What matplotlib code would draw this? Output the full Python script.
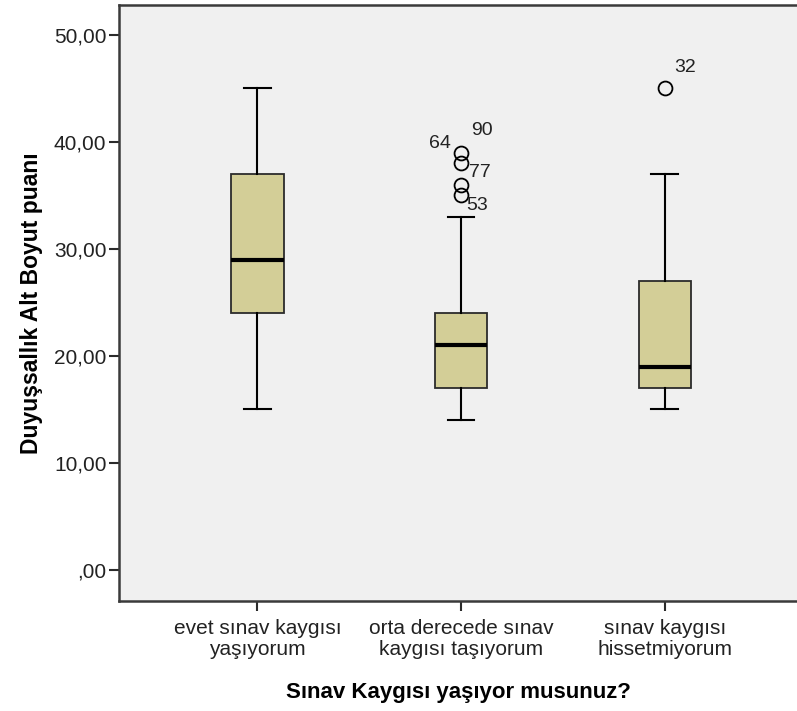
import matplotlib
matplotlib.use("Agg")
import matplotlib.pyplot as plt

plt.rcParams['font.family'] = ['Liberation Sans', 'DejaVu Sans']

# Kutu grafiği istatistikleri
categories = ['evet sınav kaygısı\nyaşıyorum',
              'orta derecede sınav\nkaygısı taşıyorum',
              'sınav kaygısı\nhissetmiyorum']
whislo = [15, 14, 15]
q1 = [24, 17, 17]
med = [29, 21, 19]
q3 = [37, 24, 27]
whishi = [45, 33, 37]
outliers = [[], [39, 38, 36, 35], [45]]
outlier_ids = [[], ['64', '90', '77', '53'], ['32']]

# etiketlerin noktaya göre kayması (punto)
label_offsets = [[], [(-23, 6.5), (7, 24), (6, 8.5), (3.6, -7)], [(7, 15)]]

yticks = [0, 10, 20, 30, 40, 50]

stats = []
for i in range(len(categories)):
    stats.append({
        'whislo': whislo[i], 'q1': q1[i], 'med': med[i],
        'q3': q3[i], 'whishi': whishi[i], 'fliers': outliers[i],
    })

fig = plt.figure(figsize=(7.97, 7.11), dpi=100)
ax = fig.add_axes([0.1493, 0.1547, 0.8507, 0.8383])
ax.set_facecolor('#f0f0f0')
fig.patch.set_facecolor('white')

positions = list(range(len(categories)))
ax.bxp(stats, positions=positions, widths=0.256, patch_artist=True,
       boxprops=dict(facecolor='#d3ce97', edgecolor='#2b2b2b', linewidth=1.3),
       medianprops=dict(color='black', linewidth=3),
       whiskerprops=dict(color='black', linewidth=1.5),
       capprops=dict(color='black', linewidth=1.5),
       capwidths=0.13,
       flierprops=dict(marker='o', markerfacecolor='none', markeredgecolor='black',
                       markersize=10, markeredgewidth=1.3))

for i in positions:
    for val, lab, off in zip(outliers[i], outlier_ids[i], label_offsets[i]):
        ax.annotate(lab, (i, val), xytext=off, textcoords='offset points',
                    fontsize=14, ha='left', va='center', color='#222222')

ax.set_xlim(-0.68, 2.65)
ax.set_ylim(-2.9, 52.8)
ax.set_yticks(yticks)
ylabels = []
for v in yticks:
    s = f"{v:.2f}".replace('.', ',')
    if v == 0:
        s = s.lstrip('0')
    ylabels.append(s)
ax.set_yticklabels(ylabels)
ax.set_xticks(positions)
ax.set_xticklabels(categories, fontsize=15, linespacing=1.15, color='#222222')
ax.tick_params(axis='y', labelsize=15, length=7, width=1.5, color='#2b2b2b', pad=2,
               labelcolor='#222222')
ax.tick_params(axis='x', length=7, width=1.5, color='#2b2b2b', pad=6)

for side in ['left', 'bottom', 'top']:
    ax.spines[side].set_linewidth(1.8)
    ax.spines[side].set_color('#3a3a3a')
ax.spines['right'].set_visible(False)

ax.set_ylabel('Duyuşsallık Alt Boyut puanı', fontsize=16.5, fontweight='bold', labelpad=8)
ax.set_xlabel('Sınav Kaygısı yaşıyor musunuz?', fontsize=16, fontweight='bold', labelpad=16)

plt.savefig('out.png', dpi=100)
